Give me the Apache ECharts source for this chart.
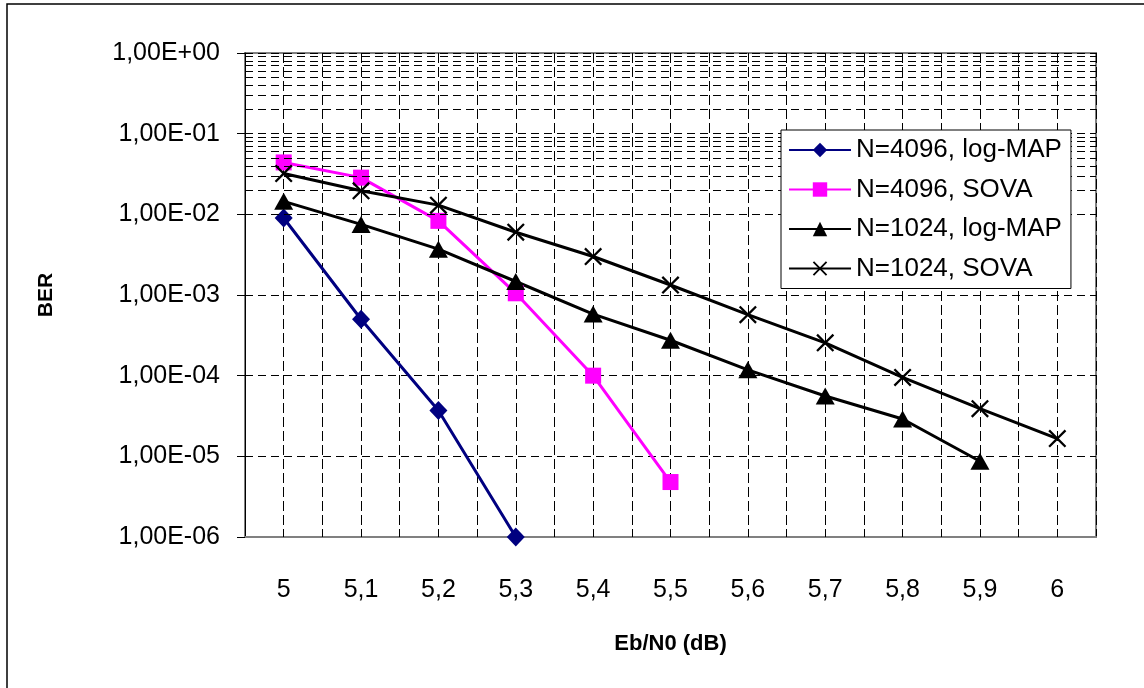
<!DOCTYPE html>
<html>
<head>
<meta charset="utf-8">
<script src="https://cdn.jsdelivr.net/npm/echarts@6/dist/echarts.min.js"></script>
<style>
  html, body { margin: 0; padding: 0; background: #fff; }
  #chart { width: 1144px; height: 688px; }
</style>
</head>
<body>
<div id="chart"></div>
<script>
// Eb/N0 values (dB)
const ebn0 = [5, 5.1, 5.2, 5.3, 5.4, 5.5, 5.6, 5.7, 5.8, 5.9, 6];

// BER per curve, null = no point
const n4096LogMap = [9e-3, 5e-4, 3.7e-5, 1e-6, null, null, null, null, null, null, null];
const n4096Sova = [4.4e-2, 2.85e-2, 8.3e-3, 1.05e-3, 1e-4, 4.8e-6, null, null, null, null, null];
const n1024LogMap = [1.45e-2, 7.5e-3, 3.7e-3, 1.47e-3, 5.8e-4, 2.75e-4, 1.18e-4, 5.6e-5, 2.9e-5, 8.7e-6, null];
const n1024Sova = [3.2e-2, 1.96e-2, 1.3e-2, 6e-3, 3e-3, 1.33e-3, 5.7e-4, 2.55e-4, 9.5e-5, 3.9e-5, 1.66e-5];

// minor gridlines inside each decade
const decades = [-6, -5, -4, -3, -2, -1];
const minorSteps = [2, 3, 4, 5, 6, 7, 8, 9];

const FONT = "Liberation Sans, Arial, sans-serif";

const pairs = (vals) => ebn0.map((x, i) => [x, vals[i]]).filter((p) => p[1] != null);

const crossPath =
  "path://M0,9L9,0L50,41L91,0L100,9L59,50L100,91L91,100L50,59L9,100L0,91L41,50Z";

const minorLines = [];
decades.forEach((d) => {
  minorSteps.forEach((m) => minorLines.push({ yAxis: m * Math.pow(10, d) }));
});

const fmtY = (v) => {
  const e = Math.round(Math.log10(v));
  const s = e >= 0 ? "+" : "-";
  return "1,00E" + s + String(Math.abs(e)).padStart(2, "0");
};

const fmtX = (v) => {
  const t = v * 10;
  if (Math.abs(t - Math.round(t)) > 1e-6) return "";
  return String(Math.round(t) / 10).replace(".", ",");
};

const chart = echarts.init(document.getElementById("chart"));

const dashed = { color: "#000", width: 1, type: [8, 5] };

const option = {
  animation: false,
  backgroundColor: "#fff",
  graphic: [
    {
      type: "rect",
      shape: { x: 7, y: 4, width: 1150, height: 700 },
      style: { fill: "none", stroke: "#000", lineWidth: 1.5 },
      silent: true,
    },
  ],
  grid: {
    left: 245,
    top: 53,
    right: 48,
    bottom: 151,
    show: true,
    borderColor: "#808080",
    borderWidth: 2,
    backgroundColor: "#fff",
  },
  legend: {
    orient: "vertical",
    left: 781,
    top: 130,
    padding: [7, 9, 7, 7],
    itemGap: 13.5,
    itemWidth: 62,
    itemHeight: 18,
    borderColor: "#000",
    borderWidth: 1,
    backgroundColor: "#fff",
    textStyle: { fontFamily: FONT, fontSize: 26, color: "#000" },
    z: 10,
  },
  xAxis: {
    type: "value",
    min: 4.95,
    max: 6.05,
    interval: 0.05,
    name: "Eb/N0 (dB)",
    nameLocation: "middle",
    nameGap: 96,
    nameTextStyle: { fontFamily: FONT, fontSize: 22, fontWeight: "bold", color: "#000" },
    axisLine: { lineStyle: { color: "#808080", width: 2 } },
    axisTick: { inside: true, length: 6, lineStyle: { color: "#000" } },
    axisLabel: {
      formatter: fmtX,
      margin: 41,
      fontFamily: FONT,
      fontSize: 25,
      color: "#000",
      showMinLabel: false,
      showMaxLabel: false,
    },
    splitLine: { show: true, lineStyle: { color: "#000", width: 1, type: [10, 4] } },
  },
  yAxis: {
    type: "log",
    logBase: 10,
    min: 1e-6,
    max: 1,
    name: "BER",
    nameLocation: "middle",
    nameGap: 188,
    nameRotate: 90,
    nameTextStyle: { fontFamily: FONT, fontSize: 21, fontWeight: "bold", color: "#000" },
    axisLine: { show: true, lineStyle: { color: "#000", width: 1 } },
    axisTick: { show: true, length: 8, lineStyle: { color: "#000" } },
    axisLabel: { formatter: fmtY, margin: 25, fontFamily: FONT, fontSize: 25, color: "#000" },
    splitLine: { show: true, lineStyle: dashed },
  },
  series: [
    {
      name: "gridMinor",
      type: "line",
      data: [],
      silent: true,
      z: 1,
      markLine: {
        silent: true,
        symbol: "none",
        label: { show: false },
        lineStyle: dashed,
        emphasis: { disabled: true },
        data: minorLines,
        animation: false,
      },
    },
    {
      name: "N=4096, log-MAP",
      type: "line",
      data: pairs(n4096LogMap),
      symbol: "diamond",
      symbolSize: [18, 19],
      lineStyle: { color: "#000080", width: 3 },
      itemStyle: { color: "#000080" },
      z: 3,
    },
    {
      name: "N=4096, SOVA",
      type: "line",
      data: pairs(n4096Sova),
      symbol: "rect",
      symbolSize: 16,
      lineStyle: { color: "#ff00ff", width: 3 },
      itemStyle: { color: "#ff00ff" },
      z: 3,
    },
    {
      name: "N=1024, log-MAP",
      type: "line",
      data: pairs(n1024LogMap),
      symbol: "triangle",
      symbolSize: [19, 17],
      lineStyle: { color: "#000", width: 3 },
      itemStyle: { color: "#000" },
      z: 3,
    },
    {
      name: "N=1024, SOVA",
      type: "line",
      data: pairs(n1024Sova),
      symbol: crossPath,
      symbolSize: 18,
      lineStyle: { color: "#000", width: 3 },
      itemStyle: { color: "#000" },
      z: 3,
    },
  ],
};

option.legend.data = option.series.slice(1).map((s) => s.name);

chart.setOption(option);
</script>
</body>
</html>
